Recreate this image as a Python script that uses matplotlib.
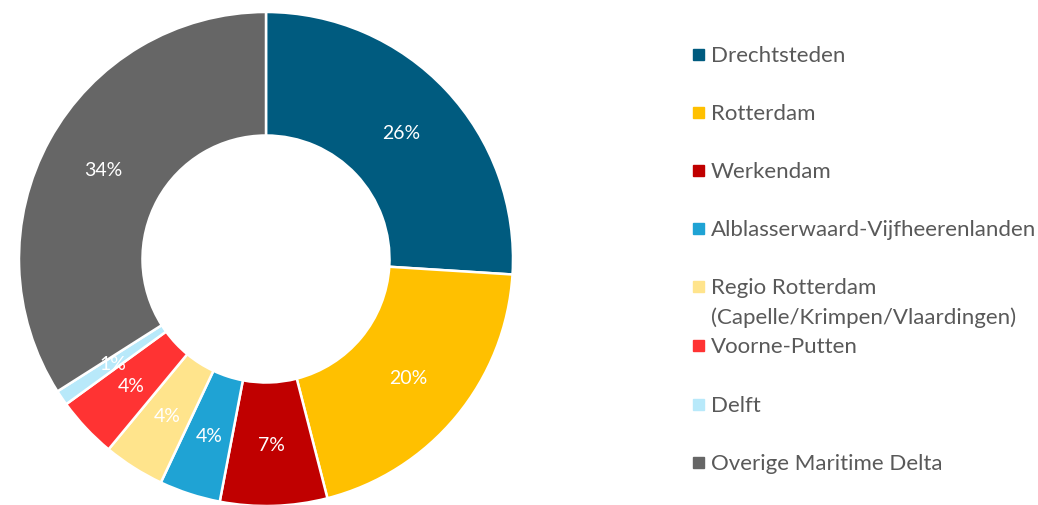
import matplotlib
matplotlib.use('Agg')
import matplotlib.pyplot as plt
import matplotlib.patches as mpatches

# data
regions = ['Drechtsteden', 'Rotterdam', 'Werkendam', 'Alblasserwaard-Vijfheerenlanden',
           'Regio Rotterdam\n(Capelle/Krimpen/Vlaardingen)', 'Voorne-Putten', 'Delft',
           'Overige Maritime Delta']
shares = [26, 20, 7, 4, 4, 4, 1, 34]
colors = ['#005B7F', '#FFC000', '#C00000', '#1FA3D4', '#FFE48C', '#FF3333', '#B8E9FA', '#666666']

plt.rcParams['font.family'] = ['Lato', 'DejaVu Sans']

W, H = 1038, 506
fig = plt.figure(figsize=(W / 100, H / 100), dpi=100)

# pie axes, centre ~ (266, 260) px, radius ~247 px
cx, cy, r = 266, 260, 247
ax = fig.add_axes([(cx - r) / W, (H - cy - r) / H, 2 * r / W, 2 * r / H])
wedges, _, autotexts = ax.pie(shares, colors=colors, startangle=90, counterclock=False,
                              radius=1, autopct='%d%%', pctdistance=0.75,
                              wedgeprops=dict(width=0.5, edgecolor='white', linewidth=1.8),
                              textprops=dict(color='white', fontsize=14))
ax.set_xlim(-1, 1)
ax.set_ylim(-1, 1)
ax.set_aspect('equal')
ax.axis('off')

# legend drawn by hand, Excel-like spacing
leg_y = [56, 114, 172, 230, 288, 347, 406, 464]
for lab, col, y in zip(regions, colors, leg_y):
    fig.patches.append(mpatches.Rectangle((693 / W, (H - y - 5) / H), 11 / W, 11 / H,
                                          transform=fig.transFigure, color=col))
    fig.text(711 / W, (H - y) / H, lab.split('\n')[0], fontsize=16, color='#595959',
             va='center', ha='left')
    if '\n' in lab:
        fig.text(711 / W, (H - y - 30) / H, lab.split('\n')[1], fontsize=16, color='#595959',
                 va='center', ha='left')

fig.savefig('out.png', dpi=100)
